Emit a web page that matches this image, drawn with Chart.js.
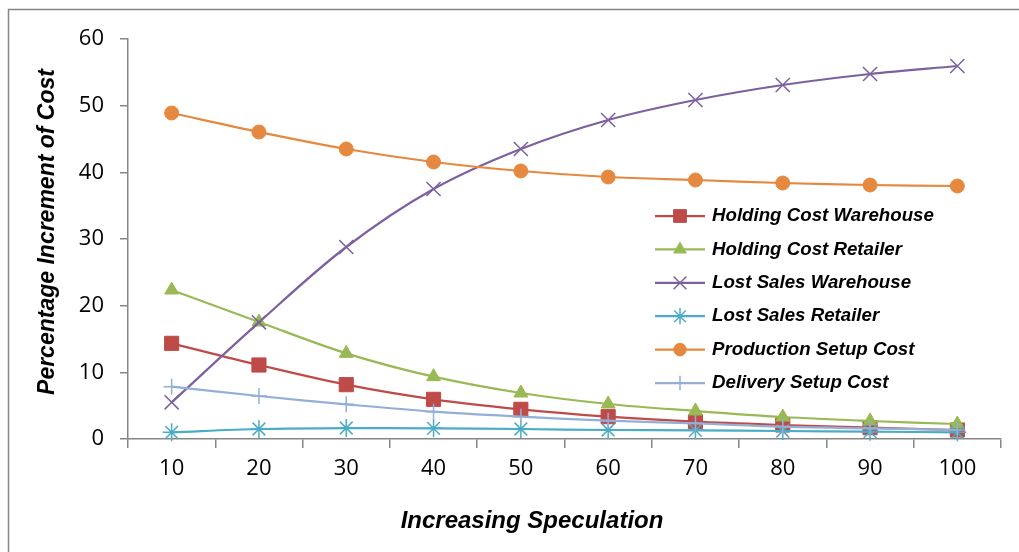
<!DOCTYPE html>
<html>
<head>
<meta charset="utf-8">
<script src="https://cdn.jsdelivr.net/npm/chart.js@4"></script>
<style>
  html, body { margin: 0; padding: 0; background: #fff; }
  #wrap { position: relative; width: 1019px; height: 552px; }
</style>
</head>
<body>
<div id="wrap"><canvas id="chart" width="1019" height="552"></canvas></div>
<script>
const categories = ["10", "20", "30", "40", "50", "60", "70", "80", "90", "100"];
const yTicks = [0, 10, 20, 30, 40, 50, 60];

const holdingWarehouse = [14.35, 11.1, 8.15, 5.95, 4.45, 3.35, 2.6, 2.1, 1.7, 1.35];
const holdingRetailer = [22.35, 17.55, 12.85, 9.35, 6.9, 5.25, 4.2, 3.3, 2.7, 2.25];
const lostSalesWarehouse = [5.5, 17.5, 28.8, 37.5, 43.5, 47.85, 50.85, 53.1, 54.75, 55.95];
const lostSalesRetailer = [1.0, 1.5, 1.65, 1.6, 1.5, 1.35, 1.3, 1.2, 1.1, 1.0];
const productionSetup = [48.9, 46.05, 43.5, 41.55, 40.2, 39.3, 38.85, 38.4, 38.1, 37.95];
const deliverySetup = [7.85, 6.45, 5.2, 4.1, 3.35, 2.75, 2.35, 1.85, 1.6, 1.35];

const seriesNames = [
  "Holding Cost Warehouse", "Holding Cost Retailer", "Lost Sales Warehouse",
  "Lost Sales Retailer", "Production Setup Cost", "Delivery Setup Cost"
];

const AXIS = "#868686";
const TICK_FONT = { family: "'Open Sans'", size: 22 };
const X_TITLE_FONT = "italic bold 24px 'Liberation Sans', Arial, sans-serif";
const Y_TITLE_FONT = "italic bold 23px 'Liberation Sans', Arial, sans-serif";
const LEGEND_FONT = "italic bold 18.7px 'Liberation Sans', Arial, sans-serif";

const series = [
  { data: holdingWarehouse, color: "#BE4B48", style: "rect", r: 10 },
  { data: holdingRetailer, color: "#98B954", style: "triangle", r: 8 },
  { data: lostSalesWarehouse, color: "#7D60A0", style: "crossRot", r: 10 },
  { data: lostSalesRetailer, color: "#4BACC6", style: "star", r: 9 },
  { data: productionSetup, color: "#E4893F", style: "circle", r: 7 },
  { data: deliverySetup, color: "#93AFD6", style: "cross", r: 8 }
];

const datasets = series.map((s, i) => ({
  label: seriesNames[i],
  data: s.data,
  borderColor: s.color,
  backgroundColor: s.color,
  borderWidth: 2.25,
  pointStyle: s.style,
  pointRadius: s.r,
  pointHoverRadius: s.r,
  pointBorderWidth: s.style === "crossRot" || s.style === "star" || s.style === "cross" ? 1.5 : 1,
  tension: 0.35,
  clip: false,
  order: series.length - i
}));

// frame, axis titles and the in-plot legend
const extras = {
  id: "extras",
  beforeDraw(chart) {
    const ctx = chart.ctx;
    ctx.save();
    ctx.strokeStyle = AXIS;
    ctx.lineWidth = 1.5;
    ctx.strokeRect(8.5, 9.5, 1100, 600);
    ctx.restore();
  },
  afterDraw(chart) {
    const ctx = chart.ctx;
    ctx.save();
    ctx.fillStyle = "#000";
    ctx.textAlign = "center";
    ctx.textBaseline = "middle";
    ctx.font = X_TITLE_FONT;
    ctx.fillText("Increasing Speculation", 532, 521);
    ctx.font = Y_TITLE_FONT;
    ctx.translate(48, 232);
    ctx.rotate(-Math.PI / 2);
    ctx.fillText("Percentage Increment of Cost", 0, 0);
    ctx.restore();

    ctx.save();
    chart.data.datasets.forEach((ds, i) => {
      const y = 216 + i * 33.4;
      ctx.strokeStyle = ds.borderColor;
      ctx.lineWidth = 2.25;
      ctx.beginPath();
      ctx.moveTo(655, y);
      ctx.lineTo(705, y);
      ctx.stroke();
      ctx.fillStyle = ds.backgroundColor;
      ctx.lineWidth = ds.pointBorderWidth;
      Chart.helpers.drawPoint(ctx, { pointStyle: ds.pointStyle, radius: ds.pointRadius * 0.9, rotation: 0, borderWidth: ds.pointBorderWidth }, 680, y);
      ctx.fillStyle = "#000";
      ctx.font = LEGEND_FONT;
      ctx.textAlign = "left";
      ctx.textBaseline = "middle";
      ctx.fillText(ds.label, 712, y);
    });
    ctx.restore();
  }
};

new Chart(document.getElementById("chart"), {
  type: "line",
  data: { labels: categories, datasets },
  plugins: [extras],
  options: {
    responsive: false,
    animation: false,
    events: [],
    layout: { padding: { left: 0, top: 39, right: 18, bottom: 0 } },
    plugins: { legend: { display: false }, tooltip: { enabled: false } },
    scales: {
      x: {
        offset: true,
        grid: { offset: true, drawOnChartArea: false, color: AXIS, lineWidth: 1.5, tickLength: 9 },
        border: { color: AXIS, width: 1.5 },
        ticks: { color: "#000", font: TICK_FONT, padding: 8, maxRotation: 0 },
        afterFit(scale) { scale.height = 113; }
      },
      y: {
        min: 0,
        max: 60,
        afterBuildTicks(scale) { scale.ticks = yTicks.map(v => ({ value: v })); },
        grid: { drawOnChartArea: false, color: AXIS, lineWidth: 1.5, tickLength: 8 },
        border: { color: AXIS, width: 1.5 },
        ticks: { color: "#000", font: TICK_FONT, padding: 16 },
        afterFit(scale) { scale.width = 128; }
      }
    }
  }
});
</script>
</body>
</html>
